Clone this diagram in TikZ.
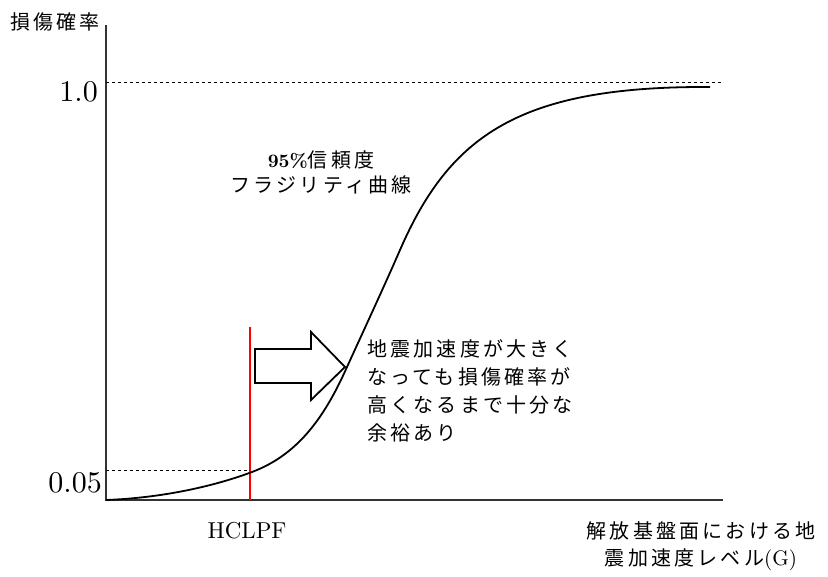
\documentclass[tikz,border=0pt]{standalone}
\usepackage{fontspec}
\newfontfamily\jp[LetterSpace=16]{Noto Sans CJK JP}
\newfontfamily\lmten[Extension=.otf,BoldFont=lmroman10-bold]{lmroman10-regular}
\begin{document}
\begin{tikzpicture}[x=1pt,y=-1pt,
  axis/.style={line width=2pt,draw=black!80},
  curve/.style={line width=1.8pt,black},
  guide/.style={dashed,line width=0.9pt,black},
  jptext/.style={font=\jp\fontsize{20}{28}\selectfont,inner sep=0pt},
  numtext/.style={font=\lmten\fontsize{30}{32}\selectfont,inner sep=0pt},
  latintext/.style={font=\lmten\fontsize{23}{26}\selectfont,inner sep=0pt}]
\useasboundingbox (0,0) rectangle (828,577);
\coordinate (O) at (106,500);
\coordinate (T) at (106,25);
\coordinate (X) at (723,500);
\coordinate (onea) at (106,82);
\coordinate (oneb) at (723,82);
\coordinate (fa) at (106,470);
\coordinate (fb) at (250,470);
\coordinate (ra) at (250,327);
\coordinate (rb) at (250,500);
% axes
\draw[axis] (T) -- (O) -- (X);
% guides
\draw[guide] (onea) -- (oneb);
\draw[guide] (fa) -- (fb);
% red line
\draw[red,line width=1.3pt] (ra) -- (rb);
% curve
\draw[curve] (106,500) .. controls (160,498) and (212,487) .. (252,472)
  .. controls (300,454) and (326,414) .. (347,367)
  .. controls (363,332) and (385,284.5) .. (400,250)
  .. controls (450,135) and (520,86) .. (710,87);
% block arrow
\draw[line width=1.8pt,black,fill=white,line join=miter] (255,349) -- (311,349) -- (311,332) -- (345,367) -- (311,400) -- (311,383) -- (255,383) -- cycle;
% labels
\node[jptext,anchor=base west] (ylab) at (10,30) {損傷確率};
\node[numtext,anchor=base east] (one) at (98,102) {1.0};
\node[numtext,anchor=base east] (five) at (102,492) {0.05};
\node[latintext,anchor=base] (hclpf) at (247,538) {HCLPF};
\node[jptext,anchor=base,align=center,font=\jp\fontsize{20}{25}\selectfont] (fragility) at (321,193) {{\lmten\bfseries\fontsize{19}{25}\selectfont 95\%}信頼度\\フラジリティ曲線};
\node[jptext,anchor=base west,align=left] (margin) at (367,440) {地震加速度が大きく\\なっても損傷確率が\\高くなるまで十分な\\余裕あり};
\node[jptext,anchor=base,align=center,font=\jp\fontsize{20}{27}\selectfont] (xlab) at (701,565) {解放基盤面における地\\震加速度レベル{\lmten\fontsize{21}{27}\selectfont (G)}};
\end{tikzpicture}
\end{document}
